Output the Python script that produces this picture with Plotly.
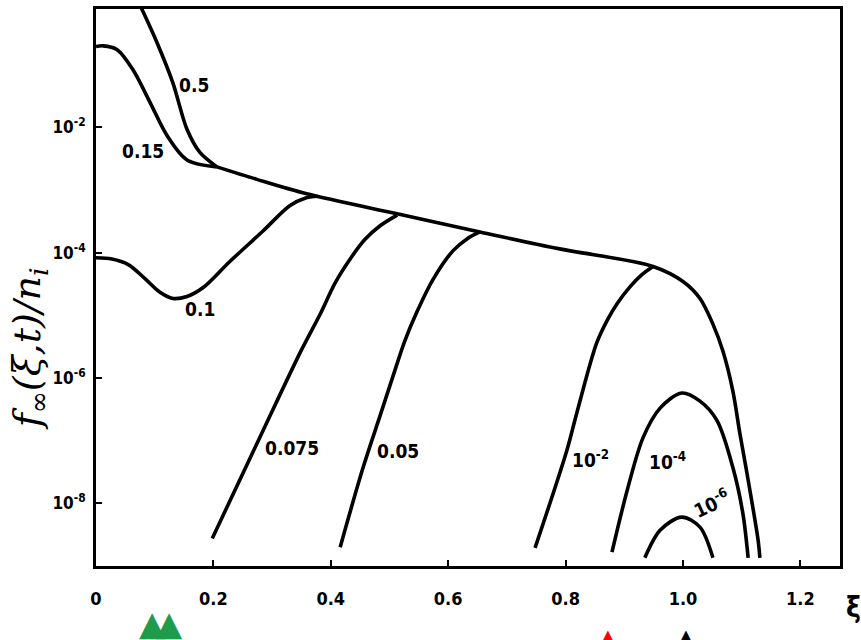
import plotly.graph_objects as go

# ---------------- data ----------------
# curve labels (t values)
label_t05 = "0.5"
label_t015 = "0.15"
label_t01 = "0.1"
label_t0075 = "0.075"
label_t005 = "0.05"
label_t1em2 = "10<sup>-2</sup>"
label_t1em4 = "10<sup>-4</sup>"
label_t1em6 = "10<sup>-6</sup>"

# t = 0.5 (distinct branch, joins common envelope)
xi_t05 = [0.070, 0.078, 0.104, 0.131, 0.155, 0.177, 0.206]
f_t05 = [1.12, 0.776, 0.224, 5.13e-2, 9.33e-3, 3.98e-3, 2.34e-3]

# t = 0.15
xi_t015 = [0.0, 0.012, 0.036, 0.063, 0.092, 0.121, 0.155, 0.206]
f_t015 = [0.195, 0.200, 0.174, 8.32e-2, 2.51e-2, 7.41e-3, 3.02e-3, 2.34e-3]

# t = 0.1
xi_t01 = [0.0, 0.027, 0.055, 0.083, 0.109, 0.131, 0.155, 0.182, 0.228, 0.285, 0.330, 0.356, 0.378]
f_t01 = [8.32e-5, 7.94e-5, 6.46e-5, 3.89e-5, 2.34e-5, 1.86e-5, 2.0e-5, 2.75e-5, 7.24e-5,
         2.24e-4, 5.62e-4, 7.41e-4, 7.94e-4]

# t = 0.075
xi_t0075 = [0.198, 0.274, 0.349, 0.382, 0.407, 0.433, 0.458, 0.484, 0.513]
f_t0075 = [2.75e-9, 8.91e-8, 2.69e-6, 1.05e-5, 3.24e-5, 7.94e-5, 1.62e-4, 2.69e-4, 3.98e-4]

# t = 0.05
xi_t005 = [0.416, 0.455, 0.484, 0.506, 0.526, 0.547, 0.574, 0.608, 0.632, 0.654]
f_t005 = [2.0e-9, 3.72e-8, 2.51e-7, 1.07e-6, 3.89e-6, 1.15e-5, 3.72e-5, 1.07e-4, 1.66e-4, 2.14e-4]

# t = 1e-2
xi_t1em2 = [0.748, 0.802, 0.819, 0.853, 0.872, 0.888, 0.910, 0.930, 0.949]
f_t1em2 = [1.95e-9, 6.92e-8, 2.75e-7, 3.63e-6, 8.71e-6, 1.55e-5, 2.88e-5, 4.47e-5, 6.03e-5]

# t = 1e-4
xi_t1em4 = [0.879, 0.905, 0.932, 0.961, 0.998, 1.029, 1.058, 1.085, 1.102, 1.111]
f_t1em4 = [1.66e-9, 1.62e-8, 1.12e-7, 3.31e-7, 5.75e-7, 4.27e-7, 2.09e-7, 3.72e-8, 6.92e-9, 1.35e-9]

# t = 1e-6
xi_t1em6 = [0.935, 0.961, 0.998, 1.029, 1.051]
f_t1em6 = [1.35e-9, 3.72e-9, 6.03e-9, 4.17e-9, 1.35e-9]

# common envelope shared by the larger-t curves
xi_env = [0.206, 0.274, 0.359, 0.513, 0.654, 0.790, 0.949, 1.000, 1.029, 1.051,
          1.068, 1.085, 1.097, 1.109, 1.128, 1.131]
f_env = [2.34e-3, 1.48e-3, 8.71e-4, 4.17e-4, 2.14e-4, 1.15e-4, 6.03e-5, 3.47e-5,
         1.86e-5, 7.24e-6, 2.69e-6, 6.17e-7, 1.29e-7, 3.02e-8, 2.57e-9, 1.35e-9]

# axis ticks
x_tickvals = [0, 0.2, 0.4, 0.6, 0.8, 1.0, 1.2]
x_ticktext = ["0", "0.2", "0.4", "0.6", "0.8", "1.0", "1.2"]
y_tickvals = [1e-2, 1e-4, 1e-6, 1e-8]
y_ticktext = ["10<sup>-2</sup>", "10<sup>-4</sup>", "10<sup>-6</sup>", "10<sup>-8</sup>"]

# ---------------- figure ----------------
FONT = "DejaVu Sans Condensed, Liberation Sans Narrow, DejaVu Sans, sans-serif"
fig = go.Figure()

curves = [(xi_t05, f_t05), (xi_t015, f_t015), (xi_t01, f_t01), (xi_t0075, f_t0075),
          (xi_t005, f_t005), (xi_t1em2, f_t1em2), (xi_t1em4, f_t1em4),
          (xi_t1em6, f_t1em6), (xi_env, f_env)]
for xs, ys in curves:
    fig.add_trace(go.Scatter(
        x=xs, y=ys, mode="lines",
        line=dict(color="black", width=3.6, shape="spline", smoothing=0.9),
        showlegend=False, hoverinfo="skip"))

# curve labels (positions in axis units; y as log10 on log axis)
labels = [
    (label_t05, 0.167, -1.33, 0),
    (label_t015, 0.080, -2.37, 0),
    (label_t01, 0.177, -4.90, 0),
    (label_t0075, 0.334, -7.11, 0),
    (label_t005, 0.514, -7.17, 0),
    (label_t1em2, 0.842, -7.29, 0),
    (label_t1em4, 0.974, -7.32, 0),
    (label_t1em6, 1.049, -8.00, -25),
]
for txt, x, y, ang in labels:
    fig.add_annotation(x=x, y=y, xref="x", yref="y", text=txt, showarrow=False,
                       textangle=ang,
                       font=dict(family=FONT, size=19, color="black", weight="bold"))

# axis titles
fig.add_annotation(x=-0.090, y=0.389, xref="paper", yref="paper",
                   xanchor="center", yanchor="middle",
                   text="<i>f</i><sub>∞</sub>(ξ,t)/n<sub>i</sub>", textangle=-90,
                   showarrow=False,
                   font=dict(family="DejaVu Serif, serif", size=38, color="black", style="italic"))
fig.add_annotation(x=1.005, y=-0.075, xref="paper", yref="paper", text="ξ",
                   showarrow=False, xanchor="left", yanchor="middle",
                   font=dict(family=FONT, size=28, color="black", weight="bold"))

# coloured markers below the axis
markers = [(0.097, "#1e9b4b", 34, -0.102), (0.126, "#1e9b4b", 34, -0.102),
           (0.872, "#ff0000", 18, -0.125), (1.005, "#000000", 18, -0.125)]
for x, col, sz, yp in markers:
    fig.add_annotation(x=x, y=yp, xref="x", yref="paper", text="▲", showarrow=False,
                       yanchor="middle",
                       font=dict(family="DejaVu Sans", size=sz, color=col))

fig.update_layout(
    width=861, height=640,
    margin=dict(l=96, r=21, t=6, b=74),
    paper_bgcolor="white", plot_bgcolor="white",
    showlegend=False,
    xaxis=dict(range=[0, 1.2675], tickvals=x_tickvals, ticktext=x_ticktext,
               ticks="inside", ticklen=6, tickwidth=2, tickcolor="black",
               showline=True, linewidth=3, linecolor="black", mirror=True,
               showgrid=False, zeroline=False, ticklabelstandoff=14,
               tickfont=dict(family=FONT, size=18, color="black", weight="bold")),
    yaxis=dict(type="log", range=[-9, -0.111], tickvals=y_tickvals, ticktext=y_ticktext,
               ticks="inside", ticklen=6, tickwidth=2, tickcolor="black",
               showline=True, linewidth=3, linecolor="black", mirror=True,
               showgrid=False, zeroline=False, ticklabelstandoff=4,
               tickfont=dict(family=FONT, size=17, color="black", weight="bold")),
)

fig.write_html("out.html", config={"displayModeBar": False},
               post_script="document.body.style.margin='0px';")
